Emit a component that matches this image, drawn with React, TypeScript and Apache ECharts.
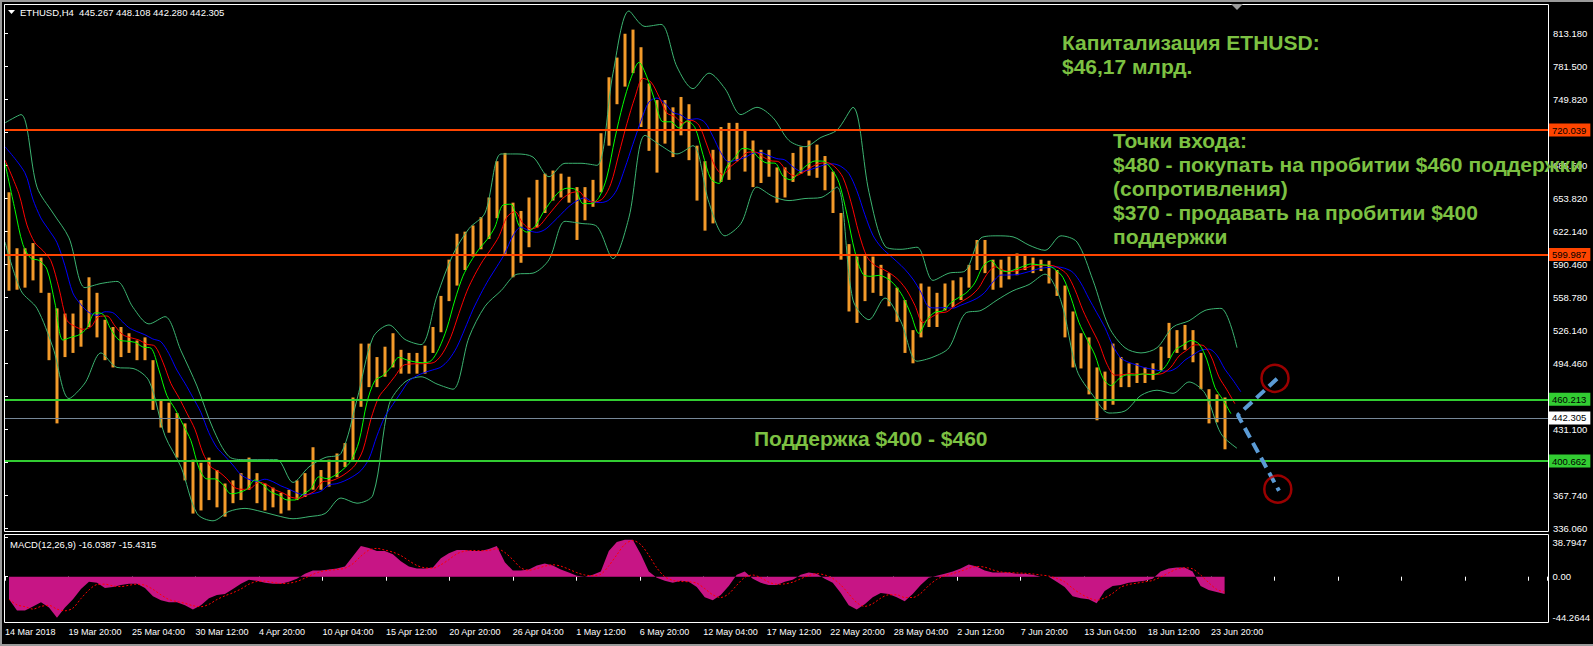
import React, { useEffect, useRef } from 'react';
import * as echarts from 'echarts';

// ---------- DATA (one sample = 4 H4 bars) ----------
const HIGH = [
  660, 606, 606, 611, 597, 563, 548, 543, 543, 556,
  578, 563, 537, 530, 530, 524, 517, 520, 498, 460,
  457, 447, 437, 402, 399, 404, 392, 379, 382, 389,
  404, 389, 379, 375, 370, 373, 382, 389, 414, 392,
  402, 408, 418, 462, 514, 514, 501, 511, 524, 508,
  505, 505, 512, 530, 560, 595, 620, 622, 628, 636,
  655, 690, 698, 650, 642, 655, 672, 678, 681, 678,
  675, 665, 665, 672, 717, 771, 790, 813, 817, 800,
  765, 749, 749, 742, 752, 745, 705, 690, 701, 723,
  727, 727, 720, 710, 701, 701, 684, 684, 698, 704,
  710, 706, 695, 680, 640, 610, 598, 600, 598, 590,
  582, 568, 556, 527, 572, 569, 563, 572, 575, 578,
  590, 614, 614, 595, 595, 598, 601, 600, 597, 595,
  594, 585, 570, 545, 524, 520, 491, 487, 514, 501,
  495, 495, 491, 495, 511, 534, 527, 532, 527, 505,
  470, 465, 462,
];
const LOW = [
  565, 566, 568, 575, 563, 498, 437, 501, 505, 511,
  530, 520, 498, 491, 501, 505, 498, 498, 450, 433,
  428, 404, 382, 350, 353, 363, 356, 347, 360, 363,
  373, 360, 353, 356, 350, 353, 363, 366, 373, 373,
  376, 385, 395, 402, 453, 472, 472, 482, 491, 485,
  485, 485, 485, 505, 525, 555, 570, 585, 598, 605,
  615, 635, 600, 578, 592, 607, 626, 640, 652, 655,
  650, 614, 633, 646, 660, 705, 745, 762, 775, 723,
  700, 679, 707, 694, 715, 691, 652, 623, 630, 670,
  672, 690, 680, 665, 669, 675, 650, 655, 670, 678,
  676, 674, 662, 640, 595, 545, 534, 555, 563, 560,
  550, 535, 505, 495, 520, 530, 530, 546, 549, 556,
  568, 585, 582, 566, 568, 576, 580, 585, 582, 584,
  572, 560, 520, 491, 490, 465, 440, 450, 455, 472,
  472, 476, 476, 479, 488, 500, 505, 508, 496, 470,
  437, 438, 412,
];
const MACD_HIST = [
  -22, -33, -33, -29, -25, -30, -40, -30, -22, -12,
  -5, -6, -11, -10, -8, -7, -7, -11, -19, -23,
  -25, -25, -28, -32, -28, -21, -18, -17, -12, -7,
  -3, -4, -6, -7, -7, -5, -2, 3, 6, 6,
  7, 8, 10, 20, 30, 28, 25, 25, 22, 15,
  10, 8, 8, 9, 18, 23, 26, 26, 25, 25,
  27, 30, 14, 6, 6, 7, 11, 13, 11, 7,
  4, 1, 0, 2, 5, 25, 34, 36, 36, 22,
  5, -1, -4, -6, -4, -5, -10, -20, -23, -18,
  -9, 2, 5, -2, -6, -8, -8, -5, -3, 2,
  4, 3, -2, -6, -16, -28, -32, -27, -20, -16,
  -17, -20, -24, -17, -8, -1, 1, 3, 5, 8,
  12, 10, 6, 4, 4, 4, 3, 3, 2, 0,
  0, -5, -10, -19, -21, -22, -26, -14, -9, -8,
  -6, -5, -4, -2, 5, 8, 9, 9, 5, -9,
  -13, -15, -17,
];
// Bollinger bands, one value every 2 samples
const BB_UPPER = [
  727, 735, 665, 640, 616, 568, 572, 574, 549, 533,
  540, 507, 473, 432, 405, 402, 402, 402, 380, 395,
  404, 408, 460, 520, 532, 518, 513, 560, 600, 625,
  640, 697, 697, 694, 675, 688, 688, 686, 775, 835,
  820, 822, 781, 760, 775, 760, 735, 742, 732, 710,
  704, 713, 720, 742, 660, 608, 605, 607, 575, 582,
  584, 616, 618, 617, 609, 604, 618, 612, 575, 530,
  510, 505, 510, 530, 536, 546, 548, 510,
];
const BB_LOWER = [
  612, 565, 548, 510, 461, 476, 505, 491, 490, 478,
  425, 395, 350, 343, 352, 355, 352, 348, 345, 347,
  350, 365, 360, 368, 455, 477, 482, 475, 470, 520,
  550, 565, 581, 582, 595, 632, 630, 627, 596, 636,
  715, 705, 697, 705, 650, 618, 630, 665, 656, 652,
  654, 655, 665, 556, 537, 558, 535, 497, 501, 510,
  543, 546, 556, 565, 571, 581, 555, 488, 464, 447,
  449, 464, 469, 466, 477, 466, 427, 413,
];
const ALLIGATOR_START = [704, 691, 688]; // jaw, teeth, lips before first sample
const DATE_LABELS = [
  '14 Mar 2018', '19 Mar 20:00', '25 Mar 04:00', '30 Mar 12:00', '4 Apr 20:00',
  '10 Apr 04:00', '15 Apr 12:00', '20 Apr 20:00', '26 Apr 04:00', '1 May 12:00',
  '6 May 20:00', '12 May 04:00', '17 May 12:00', '22 May 20:00', '28 May 04:00',
  '2 Jun 12:00', '7 Jun 20:00', '13 Jun 04:00', '18 Jun 12:00', '23 Jun 20:00',
];
// empty strings: labels hidden under the level tags in the reference
const PRICE_TICK_LABELS = [
  '336.060', '367.740', '', '431.100', '', '494.460', '526.140', '558.780',
  '590.460', '622.140', '653.820', '685.500', '', '749.820', '781.500', '813.180',
];
const RESISTANCE_LEVELS = [720.039, 599.987];
const SUPPORT_LEVELS = [460.213, 400.662];
const LAST_PRICE = 442.305;
const OHLC_LAST = ['445.267', '448.108', '442.280', '442.305'];
const MACD_LAST = ['-16.0387', '-15.4315'];
const MACD_RANGE = [-44.2644, 38.7947];
const ARROW_PATH = [[159, 480], [154.1, 445], [159.25, 372]];
const TARGETS = [[158.75, 480.5], [159.1, 373.5]];

// ---------- AXIS SCALE ----------
const X_MAX = 192.875;       // samples across the plot
const X_TICK = 7.9375;       // samples between date labels
const P_MIN = 336.06;
const P_MAX = 844.6;
const P_STEP = 31.808;

const FONT = '"Liberation Sans", Arial, sans-serif';
const TXT_GREEN = '#7cc142';

export default function App() {
  const ref = useRef<HTMLDivElement>(null);
  useEffect(() => {
    const chart = echarts.init(ref.current!, null, { renderer: 'svg' });

    const mid = HIGH.map((h, i) => (h + LOW[i]) / 2);
    const smma = (alpha: number, seed: number) => {
      let s = seed;
      return mid.map((v) => { s = s + alpha * (v - s); return s; });
    };
    const shiftLine = (vals: number[], seed: number, shift: number) =>
      [[0, seed], ...vals.map((v, i) => [i + 0.5 + shift, v])];
    const jaw = shiftLine(smma(1 - Math.pow(12 / 13, 4), ALLIGATOR_START[0]), ALLIGATOR_START[0], 1.98);
    const teeth = shiftLine(smma(1 - Math.pow(7 / 8, 4), ALLIGATOR_START[1]), ALLIGATOR_START[1], 1.24);
    const lips = shiftLine(smma(1 - Math.pow(4 / 5, 4), ALLIGATOR_START[2]), ALLIGATOR_START[2], 0.74);

    const signal = MACD_HIST.map((_, i) => {
      const a = MACD_HIST.slice(Math.max(0, i - 2), i + 1);
      return [i + 0.5, a.reduce((s, v) => s + v, 0) / a.length];
    });

    const levelLabel = (text: string, bg: string, fg: string) => ({
      show: true, position: 'end', distance: 1, color: fg, backgroundColor: bg,
      padding: [2, 4, 1, 3], fontSize: 9.5, fontFamily: FONT,
      formatter: () => text,
    });
    const levelLines = [
      ...RESISTANCE_LEVELS.map((v) => ({ yAxis: v, lineStyle: { color: '#ff4500', width: 2, type: 'solid' }, label: levelLabel(v.toFixed(3), '#ff4500', '#000') })),
      ...SUPPORT_LEVELS.map((v) => ({ yAxis: v, lineStyle: { color: '#32cd32', width: 2, type: 'solid' }, label: levelLabel(v.toFixed(3), '#32cd32', '#000') })),
      { yAxis: LAST_PRICE, lineStyle: { color: '#778899', width: 1, type: 'solid' }, label: levelLabel(LAST_PRICE.toFixed(3), '#ffffff', '#000') },
    ];

    const txt = (text: string, x: number, y: number, font: string, fill: string) => ({
      type: 'text', x, y, z: 100, silent: true,
      style: { text, fill, font, verticalAlign: 'middle', align: 'left' },
    });
    const big = `bold 21px ${FONT}`;
    const small = `9.5px ${FONT}`;

    const option: any = {
      animation: false,
      backgroundColor: '#000',
      grid: [
        { left: 5, top: 1, width: 1543, height: 527 },
        { left: 5, top: 537, width: 1543, height: 85 },
      ],
      xAxis: [
        { type: 'value', gridIndex: 0, min: 0, max: X_MAX, show: false },
        {
          type: 'value', gridIndex: 1, min: 0, max: X_MAX, interval: X_TICK,
          axisLine: { show: false }, splitLine: { show: false },
          axisTick: { show: true, length: 4, lineStyle: { color: '#fff' } },
          axisLabel: {
            color: '#fff', fontSize: 9, fontFamily: FONT, align: 'left', margin: 5,
            formatter: (v: number) => {
              const k = Math.round(v / X_TICK);
              return Math.abs(v - k * X_TICK) < 0.01 && DATE_LABELS[k] ? DATE_LABELS[k] : '';
            },
          },
        },
      ],
      yAxis: [
        {
          type: 'value', gridIndex: 0, position: 'right', min: P_MIN, max: P_MAX, interval: P_STEP,
          axisLine: { show: false }, splitLine: { show: false },
          axisTick: { show: true, length: 3, lineStyle: { color: '#fff' } },
          axisLabel: {
            color: '#fff', fontSize: 9.5, fontFamily: FONT, margin: 5,
            formatter: (v: number) => {
              const k = Math.round((v - P_MIN) / P_STEP);
              return Math.abs(v - (P_MIN + k * P_STEP)) < 0.01 && PRICE_TICK_LABELS[k] ? PRICE_TICK_LABELS[k] : '';
            },
          },
        },
        {
          type: 'value', gridIndex: 1, position: 'right', min: MACD_RANGE[0], max: MACD_RANGE[1],
          interval: -MACD_RANGE[0],
          axisLine: { show: false }, splitLine: { show: false },
          axisTick: { show: true, length: 3, lineStyle: { color: '#fff' } },
          axisLabel: {
            color: '#fff', fontSize: 9.5, fontFamily: FONT, margin: 5,
            verticalAlignMaxLabel: 'top', verticalAlignMinLabel: 'bottom',
            formatter: (v: number) => (Math.abs(v) < 1e-6 ? '0.00' : v > 0 ? MACD_RANGE[1].toFixed(4) : MACD_RANGE[0].toFixed(4)),
          },
        },
      ],
      series: [
        {
          type: 'custom', xAxisIndex: 0, yAxisIndex: 0, z: 2,
          data: HIGH.map((h, i) => [i + 0.5, LOW[i], h]),
          encode: { x: 0, y: [1, 2] },
          renderItem: (params: any, api: any) => {
            const x = api.value(0);
            const top = api.coord([x, api.value(2)]);
            const bot = api.coord([x, api.value(1)]);
            const w = 3;
            return {
              type: 'rect',
              shape: { x: top[0] - w / 2, y: top[1], width: w, height: Math.max(1, bot[1] - top[1]) },
              style: { fill: '#f39a2a' },
            };
          },
        },
        { type: 'line', xAxisIndex: 0, yAxisIndex: 0, data: BB_UPPER.map((v, k) => [2 * k, v]), symbol: 'none', smooth: 0.3, lineStyle: { color: '#3cb371', width: 1 }, z: 3,
          markLine: { symbol: 'none', silent: true, animation: false, data: levelLines } },
        { type: 'line', xAxisIndex: 0, yAxisIndex: 0, data: BB_LOWER.map((v, k) => [2 * k, v]), symbol: 'none', smooth: 0.3, lineStyle: { color: '#3cb371', width: 1 }, z: 3 },
        { type: 'line', xAxisIndex: 0, yAxisIndex: 0, data: jaw, symbol: 'none', smooth: 0.3, lineStyle: { color: '#0000ff', width: 1 }, z: 4 },
        { type: 'line', xAxisIndex: 0, yAxisIndex: 0, data: teeth, symbol: 'none', smooth: 0.3, lineStyle: { color: '#ff0000', width: 1 }, z: 4 },
        { type: 'line', xAxisIndex: 0, yAxisIndex: 0, data: lips, symbol: 'none', smooth: 0.3, lineStyle: { color: '#00ff00', width: 1 }, z: 4 },
        { type: 'line', xAxisIndex: 0, yAxisIndex: 0, data: ARROW_PATH, symbol: 'none', lineStyle: { color: '#5b9bd5', width: 4, type: [11, 6] }, z: 6 },
        { type: 'scatter', xAxisIndex: 0, yAxisIndex: 0, data: TARGETS, symbol: 'circle', symbolSize: 27,
          itemStyle: { color: 'rgba(0,0,0,0)', borderColor: '#c00000', borderWidth: 2.5 }, z: 6 },
        { type: 'line', xAxisIndex: 1, yAxisIndex: 1, data: MACD_HIST.map((v, i) => [i + 0.5, v]), symbol: 'none',
          lineStyle: { width: 0, opacity: 0 }, areaStyle: { color: '#c71585', opacity: 1, origin: 0 }, z: 2 },
        { type: 'line', xAxisIndex: 1, yAxisIndex: 1, data: signal, symbol: 'none', smooth: 0.3,
          lineStyle: { color: '#ff0000', width: 1, type: [2, 2] }, z: 3 },
      ],
      graphic: [
        { type: 'rect', silent: true, z: 50, shape: { x: 0, y: 0, width: 1593, height: 2 }, style: { fill: '#9a9a9a' } },
        { type: 'rect', silent: true, z: 50, shape: { x: 0, y: 0, width: 2, height: 646 }, style: { fill: '#9a9a9a' } },
        { type: 'rect', silent: true, z: 50, shape: { x: 0, y: 644, width: 1593, height: 2 }, style: { fill: '#9a9a9a' } },
        { type: 'rect', silent: true, z: 50, shape: { x: 4.5, y: 4.5, width: 1544, height: 527 }, style: { fill: 'none', stroke: '#fff', lineWidth: 1 } },
        { type: 'rect', silent: true, z: 50, shape: { x: 4.5, y: 534.5, width: 1544, height: 88 }, style: { fill: 'none', stroke: '#fff', lineWidth: 1 } },
        { type: 'polygon', silent: true, z: 50, shape: { points: [[1231, 4], [1243, 4], [1237, 10]] }, style: { fill: '#9a9a9a' } },
        { type: 'polygon', silent: true, z: 50, shape: { points: [[8, 10], [15, 10], [11.5, 14]] }, style: { fill: '#fff' } },
        txt(`ETHUSD,H4\u00a0\u00a0${OHLC_LAST.join(' ')}`, 20, 12, small, '#fff'),
        txt(`MACD(12,26,9) ${MACD_LAST.join(' ')}`, 10, 544, small, '#fff'),
        txt('Капитализация ETHUSD:', 1062, 42, big, TXT_GREEN),
        txt('$46,17 млрд.', 1062, 66, big, TXT_GREEN),
        txt('Точки входа:', 1113, 140, big, TXT_GREEN),
        txt('$480 - покупать на пробитии $460 поддержки', 1113, 164, big, TXT_GREEN),
        txt('(сопротивления)', 1113, 188, big, TXT_GREEN),
        txt('$370 - продавать на пробитии $400', 1113, 212, big, TXT_GREEN),
        txt('поддержки', 1113, 236, big, TXT_GREEN),
        txt('Поддержка $400 - $460', 754, 438, big, TXT_GREEN),
      ],
    };
    chart.setOption(option);
    return () => chart.dispose();
  }, []);
  return (
    <div
      ref={ref}
      style={{ position: 'absolute', left: 0, top: 0, width: 1593, height: 646, background: '#000' }}
    />
  );
}
